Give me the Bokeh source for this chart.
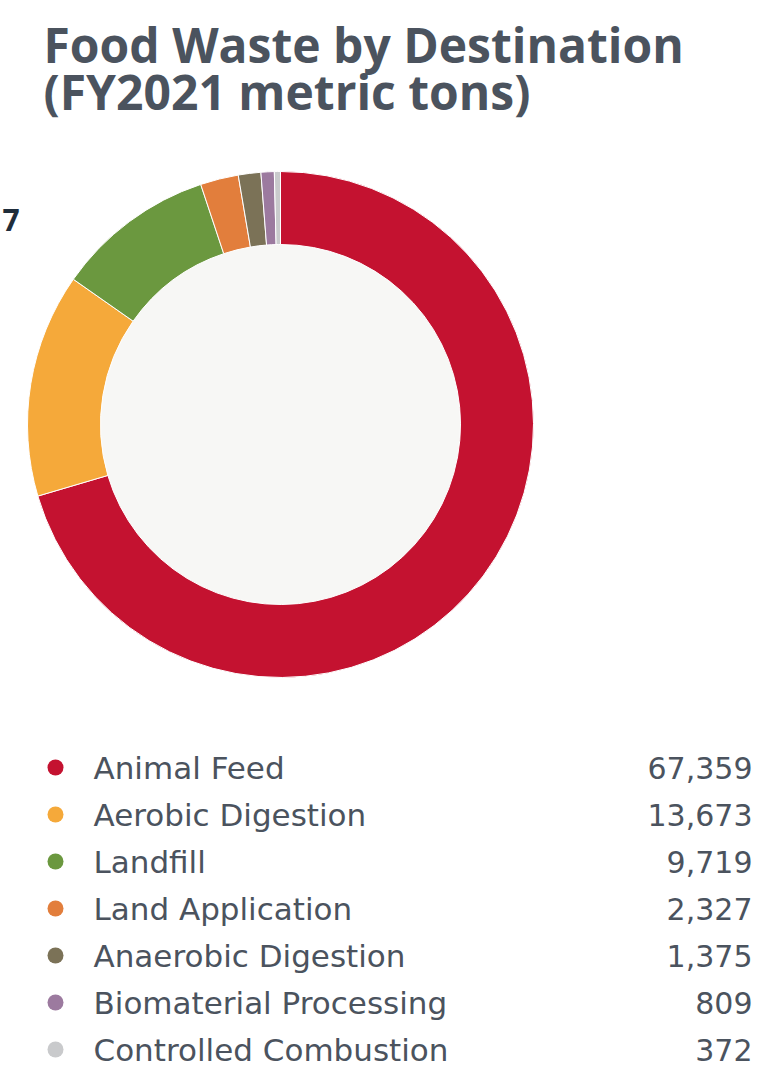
import numpy as np
from bokeh.plotting import figure
from bokeh.models import Range1d, ColumnDataSource
from bokeh.core.properties import value
from bokeh.embed import file_html
from bokeh.resources import INLINE

categories = ["Animal Feed", "Aerobic Digestion", "Landfill", "Land Application",
              "Anaerobic Digestion", "Biomaterial Processing", "Controlled Combustion"]
tons = [67359, 13673, 9719, 2327, 1375, 809, 372]
value_labels = ["67,359", "13,673", "9,719", "2,327", "1,375", "809", "372"]
colors = ["#c41230", "#f5a93a", "#6b983f", "#e27e3c", "#7b7257", "#9c7a9f", "#c9cacc"]
title_lines = ["Food Waste by Destination", "(FY2021 metric tons)"]
side_label = "7"

TEXT_COLOR = "#4b535e"
TITLE_FONT = "Open Sans"
LEG_FONT = "DejaVu Sans"

W, H = 752, 1076
p = figure(width=W, height=H, x_range=Range1d(0, W), y_range=Range1d(-H, 0),
           output_backend="svg", toolbar_location=None, min_border=0,
           x_axis_location=None, y_axis_location=None)
p.grid.visible = False
p.outline_line_color = None
p.background_fill_color = "white"
p.border_fill_color = "white"


def base(b, fs, k=0.38):
    # convert a wanted baseline (px from top) to a y value
    return -(b - k * fs)


# title
TFS = 48
p.text(x=[43, 43], y=[base(62, TFS), base(109, TFS)], text=title_lines,
       text_font=value(TITLE_FONT), text_font_style="bold",
       text_font_size=value(f"{TFS}px"), text_color=TEXT_COLOR,
       text_baseline="alphabetic", text_align="left")

# stray clipped label
p.text(x=[2], y=[base(231, 30)], text=[side_label], text_font=value(TITLE_FONT),
       text_font_style="bold", text_font_size=value("30px"), text_color="#1f2d3b",
       text_baseline="alphabetic")

# donut
cx, cy = 280, -424
vals = np.array(tons, dtype=float)
total = vals.sum()
cum = np.cumsum(vals)
before = cum - vals
start = np.pi / 2 - 2 * np.pi * before / total
end = np.pi / 2 - 2 * np.pi * cum / total
p.circle(x=[cx], y=[cy], radius=180, fill_color="#f7f7f5", line_color=None)
src = ColumnDataSource(dict(start=start, end=end, color=colors, cat=categories))
p.annular_wedge(x=cx, y=cy, inner_radius=180, outer_radius=253, start_angle="start",
                end_angle="end", direction="clock", fill_color="color",
                line_color="white", line_width=1, source=src)

# legend
n = len(categories)
LFS, VFS = 31, 30
rows = np.array([767 + 47 * i for i in range(n)], dtype=float)
p.scatter(x=[55] * n, y=list(-rows), size=16, fill_color=colors, line_color=None)
p.text(x=[93] * n, y=[base(r + 11, LFS, 0.35) for r in rows], text=categories,
       text_font=value(LEG_FONT), text_font_size=value(f"{LFS}px"),
       text_color=TEXT_COLOR, text_baseline="alphabetic")
p.text(x=[752] * n, y=[base(r + 11, VFS, 0.35) for r in rows], text=value_labels,
       text_font=value(LEG_FONT), text_font_size=value(f"{VFS}px"),
       text_color=TEXT_COLOR, text_baseline="alphabetic", text_align="right")

open("out.html", "w").write(file_html(p, INLINE))
